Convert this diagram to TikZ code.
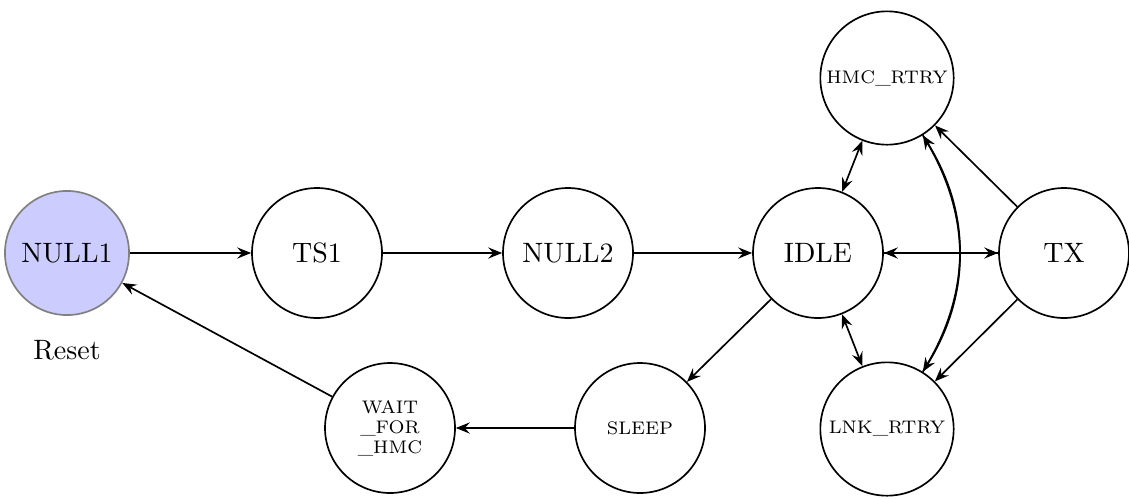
\documentclass[tikz,border=0pt]{standalone}
\usetikzlibrary{arrows.meta}
\begin{document}
\begin{tikzpicture}[x=0.357pt,y=-0.357pt,
  >={Stealth[length=5pt,width=4pt,inset=1.8pt]},
  state/.style={circle,draw,semithick,minimum size=46.4pt,inner sep=0pt,font=\normalsize},
  smallstate/.style={state,minimum size=47.6pt,font=\fontsize{6.5}{7.2}\selectfont,align=center},
  tr/.style={->,semithick},
  dtr/.style={<->,semithick}]
\useasboundingbox (0,0) rectangle (1129,498);
\node[state,fill=blue!20,draw=gray,minimum size=44.3pt] (null1) at (67,253) {NULL1};
\node (reset) at (67,350) {Reset};
\node[state] (ts1) at (317,253) {TS1};
\node[state] (null2) at (568,253) {NULL2};
\node[state] (idle) at (818,253) {IDLE};
\node[state] (tx) at (1064,253) {TX};
\node[smallstate] (hmc) at (887,78) {HMC\_RTRY};
\node[smallstate] (lnk) at (887,429) {LNK\_RTRY};
\node[smallstate,minimum size=46.4pt] (sleep) at (640,428) {SLEEP};
\node[smallstate,minimum size=46.4pt] (wait) at (390,428) {WAIT\\\_FOR\\\_HMC};
\draw[tr] (null1) -- (ts1);
\draw[tr] (ts1) -- (null2);
\draw[tr] (null2) -- (idle);
\draw[tr] (idle) -- (tx);
\draw[tr] (tx) -- (idle);
\draw[dtr] (idle) -- (hmc);
\draw[dtr] (idle) -- (lnk);
\draw[tr] (hmc) to[bend left=32] (lnk);
\draw[tr] (lnk) to[bend right=32] (hmc);
\draw[tr] (tx) -- (hmc);
\draw[tr] (tx) -- (lnk);
\draw[tr] (idle) -- (sleep);
\draw[tr] (sleep) -- (wait);
\draw[tr] (wait) -- (null1);
\end{tikzpicture}
\end{document}
